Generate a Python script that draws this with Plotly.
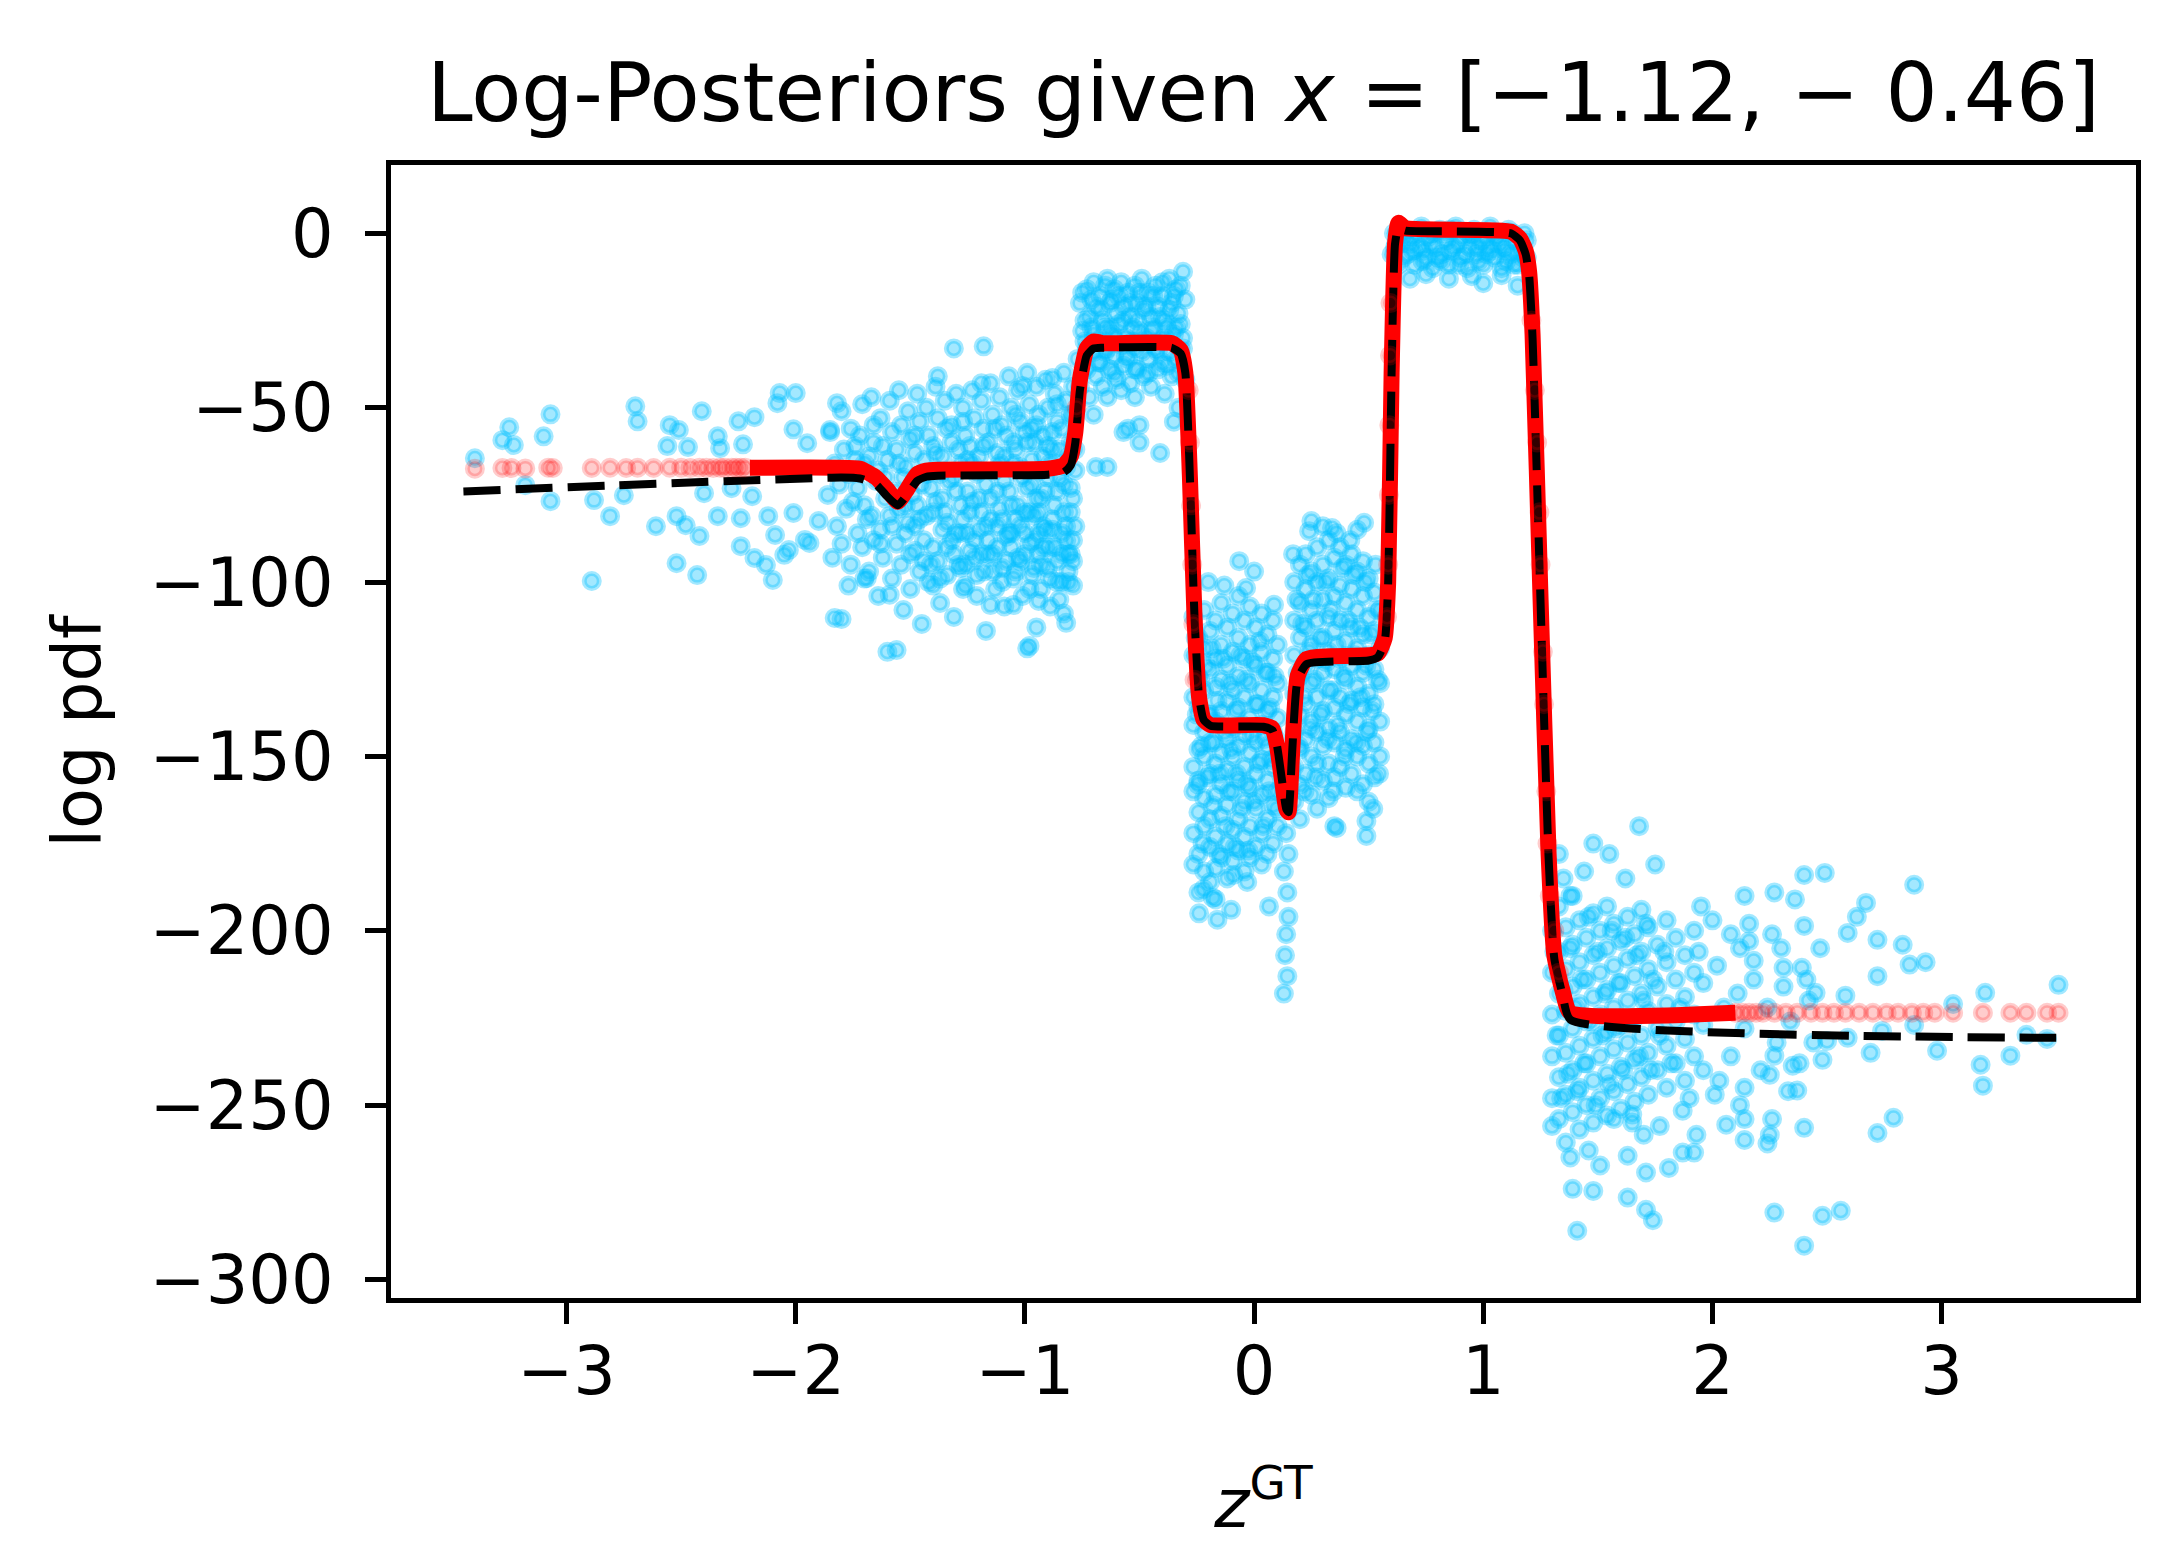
import plotly.graph_objects as go

# ---- data ----
title_text = "Log-Posteriors given <i>x</i> = [\u22121.12, \u2212 0.46]"
x_ticks = [-3, -2, -1, 0, 1, 2, 3]
x_tick_labels = ["\u22123", "\u22122", "\u22121", "0", "1", "2", "3"]
y_ticks = [0, -50, -100, -150, -200, -250, -300]
y_tick_labels = ["0", "\u221250", "\u2212100", "\u2212150", "\u2212200", "\u2212250", "\u2212300"]

# estimated log posterior (black dashed)
est_z = [-3.45, -1.80, -1.72, -1.65, -1.60, -1.555, -1.52, -1.47, -1.43, -1.38, -0.90, -0.83,
         -0.80, -0.78, -0.76, -0.73, -0.70, -0.66, -0.36, -0.32, -0.30, -0.28, -0.26, -0.24,
         -0.22, -0.19, 0.04, 0.08, 0.10, 0.12, 0.14, 0.15, 0.165, 0.19, 0.23, 0.50, 0.54, 0.57,
         0.585, 0.60, 0.615, 0.63, 0.66, 1.12, 1.16, 1.185, 1.20, 1.215, 1.25, 1.285, 1.31,
         1.345, 1.38, 3.50]
est_logp = [-74.0, -70.0, -70.3, -72.0, -75.5, -78.0, -75.5, -71.0, -69.8, -69.5, -69.2, -68.5,
            -66.5, -60.0, -45.0, -35.0, -33.0, -32.8, -32.8, -34.5, -40.0, -70.0, -110.0, -133.0,
            -139.5, -141.2, -141.5, -142.5, -147.0, -156.0, -165.0, -166.0, -150.0, -128.0, -123.5,
            -122.5, -121.5, -117.0, -100.0, -40.0, -3.0, 1.5, 0.8, 0.0, -2.0, -6.0, -12.0, -30.0,
            -106.0, -179.0, -208.0, -218.0, -225.5, -230.7]

# true log posterior (red solid, where the samples pile up into a band)
true_z = [-2.20, -1.82, -1.72, -1.65, -1.60, -1.555, -1.52, -1.47, -1.43, -1.38, -0.90, -0.83,
          -0.80, -0.78, -0.76, -0.73, -0.70, -0.66, -0.36, -0.32, -0.30, -0.28, -0.26, -0.24,
          -0.22, -0.19, 0.04, 0.08, 0.10, 0.12, 0.14, 0.15, 0.165, 0.19, 0.23, 0.50, 0.54, 0.57,
          0.585, 0.60, 0.615, 0.63, 0.66, 1.12, 1.16, 1.185, 1.20, 1.215, 1.25, 1.285, 1.31,
          1.345, 1.38, 2.10]
true_logp = [-67.2, -67.2, -67.5, -70.0, -73.5, -77.0, -74.0, -69.0, -68.0, -67.8, -67.5, -66.5,
             -64.0, -57.0, -42.0, -33.0, -31.0, -31.5, -31.5, -33.5, -40.0, -70.0, -110.0, -133.0,
             -139.5, -141.0, -141.0, -142.0, -147.0, -156.0, -165.0, -166.0, -150.0, -127.0,
             -122.0, -121.0, -120.5, -116.0, -100.0, -40.0, -3.0, 3.0, 1.5, 0.5, -1.5, -5.0,
             -11.0, -29.0, -105.0, -178.0, -207.0, -217.0, -223.5, -223.5]

# true log posterior at the sampled z (red dots)
red_dots = [(-3.40, -67.5), (-3.28, -67.3), (-3.24, -67.3), (-3.18, -67.4), (-3.08, -67.2),
            (-3.06, -67.3), (-2.89, -67.3), (-2.81, -67.2), (-2.74, -67.3), (-2.69, -67.2),
            (-2.62, -67.3), (-2.55, -67.2), (-2.50, -67.2), (-2.46, -67.3), (-2.42, -67.2),
            (-2.39, -67.2), (-2.36, -67.3), (-2.33, -67.2), (-2.31, -67.2), (-2.28, -67.2),
            (-2.26, -67.2), (-2.24, -67.2), (-2.22, -67.2),
            (2.10, -223.5), (2.13, -223.5), (2.16, -223.5), (2.19, -223.5), (2.22, -223.5),
            (2.27, -223.5), (2.32, -223.5), (2.37, -223.5), (2.43, -223.5), (2.48, -223.5),
            (2.53, -223.5), (2.58, -223.5), (2.64, -223.5), (2.70, -223.5), (2.76, -223.5),
            (2.81, -223.5), (2.87, -223.5), (2.92, -223.5), (2.97, -223.5), (3.05, -223.5),
            (3.18, -223.5), (3.30, -223.5), (3.37, -223.5), (3.46, -223.5), (3.51, -223.5),
            (-0.775, -50), (-0.285, -45), (-0.28, -60), (-0.275, -78), (-0.27, -95),
            (-0.265, -112), (-0.26, -128), (0.595, -20), (0.593, -35), (0.59, -55),
            (0.588, -75), (0.585, -95), (0.58, -110), (1.21, -25), (1.225, -45), (1.235, -60),
            (1.245, -80), (1.25, -95), (1.26, -120), (1.265, -135), (1.275, -160),
            (1.28, -175), (1.29, -190), (1.31, -200), (1.33, -212)]

# posterior samples, left sparse tail and outliers
blue_left = [(-3.40, -64.5), (-3.25, -55.6), (-3.28, -59.3), (-3.23, -60.7), (-3.10, -58.2),
             (-3.07, -51.9), (-3.18, -72.2), (-3.07, -76.8), (-2.89, -99.7), (-2.81, -81.1),
             (-2.88, -76.5), (-2.75, -75.1), (-2.70, -49.6), (-2.69, -53.9), (-2.61, -84.0),
             (-2.55, -55.0), (-2.51, -56.4), (-2.56, -61.0), (-2.47, -61.3), (-2.52, -81.1),
             (-2.48, -83.7), (-2.42, -86.8), (-2.52, -94.6), (-2.43, -98.0), (-2.41, -51.0),
             (-2.40, -74.5), (-2.34, -58.2), (-2.33, -61.6), (-2.34, -81.1), (-2.25, -53.9),
             (-2.24, -81.7), (-2.24, -89.7), (-2.18, -52.7), (-2.18, -93.1), (-2.13, -95.1),
             (-2.10, -99.4), (-2.12, -81.1), (-2.09, -86.5), (-2.05, -92.2), (-2.03, -90.8),
             (-2.08, -48.7), (-2.07, -45.8), (-2.00, -45.8), (-2.01, -56.2), (-1.95, -60.2),
             (-1.96, -87.9), (-1.94, -88.8), (-2.01, -80.2), (-1.90, -82.5), (-1.83, -110.3),
             (-1.80, -110.6), (-1.85, -56.4), (-1.82, -48.7), (-2.23, -60.5), (-2.28, -73.1),
             (-2.19, -75.4), (-1.69, -98.9), (-1.59, -103.6), (-1.56, -119.5), (-1.40, -101.0),
             (-1.27, -102.0), (-1.15, -106.6), (-1.05, -106.6), (-0.98, -118.3), (-0.94, -105.4),
             (-0.82, -111.7), (-1.18, -32.4), (-1.38, -41.0), (-1.19, -43.0), (-0.88, -41.5),
             (-1.01, -43.8)]

# posterior samples, dense band before the first step
blue_band = [(-1.85, -57), (-1.83, -66), (-1.86, -75), (-1.82, -84), (-1.84, -93),
             (-1.80, -51), (-1.79, -62), (-1.81, -72), (-1.78, -79), (-1.80, -89), (-1.77, -101),
             (-1.76, -56), (-1.74, -61), (-1.77, -69), (-1.75, -77), (-1.73, -86), (-1.76, -95),
             (-1.71, -49), (-1.72, -58), (-1.70, -66), (-1.73, -73), (-1.69, -82), (-1.71, -90),
             (-1.70, -99), (-1.67, -47), (-1.66, -55), (-1.68, -64), (-1.65, -71), (-1.67, -81),
             (-1.66, -88), (-1.68, -97), (-1.63, -53), (-1.62, -61), (-1.64, -68), (-1.61, -76),
             (-1.63, -85), (-1.62, -93), (-1.64, -104), (-1.59, -48), (-1.58, -57), (-1.60, -65),
             (-1.57, -74), (-1.59, -81), (-1.56, -89), (-1.58, -99), (-1.60, -120), (-1.55, -45),
             (-1.54, -55), (-1.56, -62), (-1.53, -70), (-1.55, -79), (-1.52, -86), (-1.54, -95),
             (-1.53, -108), (-1.51, -51), (-1.50, -59), (-1.52, -67), (-1.49, -75), (-1.51, -83),
             (-1.48, -91), (-1.50, -102), (-1.47, -46), (-1.46, -54), (-1.48, -63), (-1.45, -72),
             (-1.47, -78), (-1.44, -88), (-1.46, -97), (-1.45, -112), (-1.43, -50), (-1.42, -58),
             (-1.44, -65), (-1.41, -73), (-1.43, -81), (-1.40, -90), (-1.42, -100), (-1.39, -44),
             (-1.38, -53), (-1.40, -61), (-1.37, -69), (-1.39, -77), (-1.36, -85), (-1.38, -94),
             (-1.37, -106), (-1.35, -48), (-1.34, -56), (-1.36, -64), (-1.33, -71), (-1.35, -80),
             (-1.32, -88), (-1.34, -98), (-1.31, -33), (-1.30, -46), (-1.32, -55), (-1.29, -62),
             (-1.31, -70), (-1.28, -78), (-1.30, -86), (-1.29, -95), (-1.31, -110), (-1.27, -50),
             (-1.26, -58), (-1.28, -66), (-1.25, -74), (-1.27, -82), (-1.24, -91), (-1.26, -101),
             (-1.23, -45), (-1.22, -53), (-1.24, -61), (-1.21, -69), (-1.23, -77), (-1.20, -85),
             (-1.22, -93), (-1.21, -104), (-1.19, -48), (-1.18, -56), (-1.20, -64), (-1.17, -72),
             (-1.19, -80), (-1.16, -88), (-1.18, -97), (-1.17, -114), (-1.15, -43), (-1.14, -52),
             (-1.16, -60), (-1.13, -68), (-1.15, -76), (-1.12, -84), (-1.14, -92), (-1.13, -102),
             (-1.11, -47), (-1.10, -55), (-1.12, -63), (-1.09, -71), (-1.11, -79), (-1.08, -87),
             (-1.10, -96), (-1.09, -107), (-1.07, -41), (-1.06, -50), (-1.08, -58), (-1.05, -66),
             (-1.07, -74), (-1.04, -82), (-1.06, -90), (-1.05, -99), (-1.03, -45), (-1.02, -54),
             (-1.04, -62), (-1.01, -70), (-1.03, -78), (-1.00, -86), (-1.02, -94), (-1.01, -104),
             (-0.99, -40), (-0.98, -49), (-1.00, -57), (-0.97, -65), (-0.99, -73), (-0.96, -81),
             (-0.98, -89), (-0.97, -98), (-0.99, -119), (-0.95, -44), (-0.94, -52), (-0.96, -60),
             (-0.93, -68), (-0.95, -76), (-0.92, -84), (-0.94, -92), (-0.93, -102), (-0.95, -113),
             (-0.91, -42), (-0.90, -50), (-0.92, -58), (-0.89, -66), (-0.91, -74), (-0.88, -82),
             (-0.90, -90), (-0.89, -99), (-0.87, -46), (-0.86, -54), (-0.88, -62), (-0.85, -70),
             (-0.87, -78), (-0.84, -86), (-0.86, -94), (-0.85, -105), (-0.83, -40), (-0.82, -48),
             (-0.84, -56), (-0.81, -64), (-0.83, -72), (-0.80, -80), (-0.82, -88), (-0.81, -97),
             (-0.83, -109), (-0.79, -44), (-0.79, -52), (-0.80, -60), (-0.78, -68), (-0.79, -76),
             (-0.78, -84), (-0.80, -92), (-0.79, -101),
             (-1.74, -65), (-1.70, -78), (-1.66, -60), (-1.63, -89), (-1.61, -70), (-1.58, -84),
             (-1.55, -66), (-1.52, -78), (-1.50, -92), (-1.48, -58), (-1.46, -82), (-1.43, -69),
             (-1.41, -95), (-1.39, -63), (-1.36, -76), (-1.34, -90), (-1.32, -60), (-1.30, -74),
             (-1.28, -96), (-1.27, -54), (-1.25, -86), (-1.23, -66), (-1.21, -98), (-1.20, -76),
             (-1.18, -61), (-1.16, -92), (-1.15, -82), (-1.13, -56), (-1.12, -74), (-1.10, -100),
             (-1.09, -64), (-1.07, -86), (-1.06, -78), (-1.04, -52), (-1.03, -93), (-1.02, -67),
             (-1.00, -80), (-0.99, -60), (-0.98, -102), (-0.97, -72), (-0.96, -88), (-0.95, -55),
             (-0.94, -80), (-0.93, -95), (-0.92, -64), (-0.91, -85), (-0.90, -70), (-0.89, -107),
             (-0.88, -57), (-0.87, -90), (-0.86, -74), (-0.85, -62), (-0.84, -100), (-0.83, -80),
             (-0.82, -67), (-0.81, -92), (-0.80, -52), (-0.80, -73), (-0.79, -88), (-0.78, -62),
             (-1.48, -84), (-1.44, -94), (-1.40, -80), (-1.37, -99), (-1.34, -83), (-1.31, -92),
             (-1.28, -86), (-1.26, -95), (-1.24, -80), (-1.22, -88), (-1.19, -92), (-1.17, -84),
             (-1.14, -97), (-1.12, -90), (-1.10, -82), (-1.08, -94), (-1.06, -86), (-1.04, -97),
             (-1.02, -84), (-1.00, -92), (-0.98, -80), (-0.96, -96), (-0.94, -86), (-0.92, -90),
             (-0.90, -96), (-0.88, -85), (-0.86, -100), (-0.84, -92), (-0.82, -84), (-0.81, -100),
             (-0.79, -94), (-0.97, -56), (-1.05, -60), (-0.90, -61), (-0.86, -49), (-1.11, -66),
             (-1.25, -65), (-0.93, -76)]

# posterior samples on the -30 plateau
blue_upper = [(-0.76, -20), (-0.75, -28), (-0.77, -36), (-0.76, -44), (-0.73, -16), (-0.72, -24),
              (-0.74, -31), (-0.73, -39), (-0.72, -47), (-0.70, -14), (-0.69, -21), (-0.71, -27),
              (-0.70, -34), (-0.69, -41), (-0.70, -52), (-0.67, -18), (-0.66, -25), (-0.68, -31),
              (-0.67, -37), (-0.66, -44), (-0.64, -13), (-0.63, -20), (-0.65, -27), (-0.64, -33),
              (-0.63, -39), (-0.64, -47), (-0.61, -16), (-0.60, -23), (-0.62, -29), (-0.61, -35),
              (-0.60, -42), (-0.58, -14), (-0.57, -21), (-0.59, -26), (-0.58, -32), (-0.57, -38),
              (-0.58, -45), (-0.55, -17), (-0.54, -24), (-0.56, -30), (-0.55, -36), (-0.54, -43),
              (-0.55, -56), (-0.52, -15), (-0.51, -20), (-0.53, -27), (-0.52, -33), (-0.51, -39),
              (-0.52, -47), (-0.49, -13), (-0.48, -22), (-0.50, -28), (-0.49, -34), (-0.48, -41),
              (-0.50, -60), (-0.46, -17), (-0.45, -24), (-0.47, -30), (-0.46, -36), (-0.45, -44),
              (-0.43, -15), (-0.42, -21), (-0.44, -27), (-0.43, -33), (-0.42, -39), (-0.41, -63),
              (-0.40, -18), (-0.39, -25), (-0.41, -31), (-0.40, -37), (-0.39, -46), (-0.37, -13),
              (-0.36, -20), (-0.38, -27), (-0.37, -34), (-0.36, -41), (-0.34, -16), (-0.33, -23),
              (-0.35, -29), (-0.34, -36), (-0.33, -50), (-0.31, -11), (-0.30, -19), (-0.32, -26),
              (-0.31, -33), (-0.30, -42), (-0.64, -67), (-0.69, -67), (-0.57, -57), (-0.50, -55),
              (-0.35, -54),
              (-0.75, -17), (-0.74, -25), (-0.73, -33), (-0.71, -19), (-0.70, -29), (-0.68, -37),
              (-0.67, -22), (-0.65, -15), (-0.65, -34), (-0.63, -27), (-0.62, -19), (-0.61, -40),
              (-0.60, -30), (-0.59, -18), (-0.57, -25), (-0.56, -35), (-0.54, -20), (-0.53, -31),
              (-0.52, -39), (-0.51, -25), (-0.50, -17), (-0.49, -31), (-0.47, -21), (-0.46, -40),
              (-0.45, -28), (-0.44, -18), (-0.42, -34), (-0.41, -24), (-0.40, -14), (-0.39, -30),
              (-0.38, -38), (-0.37, -22), (-0.35, -18), (-0.34, -27), (-0.33, -40), (-0.32, -15),
              (-0.31, -30)]

# posterior samples on the -140 plateau and the spike
blue_low = [(-0.265, -110), (-0.265, -121), (-0.265, -133), (-0.265, -141), (-0.265, -153),
            (-0.265, -160), (-0.265, -172), (-0.265, -181), (-0.243, -116), (-0.243, -127),
            (-0.243, -136), (-0.243, -148), (-0.243, -157), (-0.243, -166), (-0.243, -178),
            (-0.243, -189), (-0.218, -108), (-0.218, -119), (-0.218, -131), (-0.218, -143),
            (-0.218, -150), (-0.218, -162), (-0.218, -170), (-0.218, -183), (-0.192, -114),
            (-0.192, -125), (-0.192, -138), (-0.192, -146), (-0.192, -155), (-0.192, -168),
            (-0.192, -176), (-0.192, -186), (-0.168, -111), (-0.168, -122), (-0.168, -130),
            (-0.168, -140), (-0.168, -152), (-0.168, -161), (-0.168, -173), (-0.168, -182),
            (-0.168, -191), (-0.143, -106), (-0.143, -118), (-0.143, -128), (-0.143, -137),
            (-0.143, -149), (-0.143, -158), (-0.143, -167), (-0.143, -179), (-0.117, -113),
            (-0.117, -124), (-0.117, -134), (-0.117, -145), (-0.117, -154), (-0.117, -164),
            (-0.117, -175), (-0.117, -185), (-0.093, -109), (-0.093, -120), (-0.093, -131),
            (-0.093, -142), (-0.093, -150), (-0.093, -160), (-0.093, -171), (-0.093, -180),
            (-0.068, -104), (-0.068, -116), (-0.068, -127), (-0.068, -136), (-0.068, -147),
            (-0.068, -157), (-0.068, -168), (-0.068, -177), (-0.042, -111), (-0.042, -122),
            (-0.042, -133), (-0.042, -144), (-0.042, -153), (-0.042, -163), (-0.042, -173),
            (-0.042, -183), (-0.018, -107), (-0.018, -118), (-0.018, -129), (-0.018, -139),
            (-0.018, -149), (-0.018, -159), (-0.018, -170), (-0.018, -179), (0.008, -113),
            (0.008, -124), (0.008, -135), (0.008, -146), (0.008, -155), (0.008, -165),
            (0.008, -176), (0.033, -109), (0.033, -120), (0.033, -131), (0.033, -141),
            (0.033, -151), (0.033, -161), (0.033, -172), (0.033, -181), (0.058, -115),
            (0.058, -126), (0.058, -137), (0.058, -147), (0.058, -157), (0.058, -168),
            (0.058, -178), (0.083, -111), (0.083, -122), (0.083, -133), (0.083, -143),
            (0.083, -153), (0.083, -164), (0.083, -175), (0.103, -118), (0.103, -129),
            (0.103, -139), (0.103, -150), (0.103, -160), (0.103, -170), (-0.18, -190.5),
            (-0.16, -196.8), (-0.10, -194), (0.065, -193), (-0.09, -184), (-0.03, -186),
            (-0.065, -94), (-0.035, -101.7), (-0.13, -101), (0.087, -106.5), (-0.20, -100),
            (0.0, -97), (-0.24, -195), (-0.22, -188), (0.14, -172), (0.15, -178), (0.13, -183),
            (0.145, -189), (0.15, -196), (0.14, -201), (0.135, -207), (0.145, -213),
            (0.13, -218), (0.15, -165), (0.14, -160),
            (-0.255, -116), (-0.25, -138), (-0.245, -158), (-0.235, -128), (-0.23, -147),
            (-0.225, -175), (-0.21, -124), (-0.205, -156), (-0.20, -138), (-0.185, -119),
            (-0.18, -164), (-0.175, -146), (-0.16, -134), (-0.155, -178), (-0.15, -155),
            (-0.135, -122), (-0.13, -143), (-0.125, -170), (-0.11, -160), (-0.105, -129),
            (-0.10, -148), (-0.085, -176), (-0.08, -137), (-0.075, -155), (-0.06, -121),
            (-0.055, -165), (-0.05, -141), (-0.035, -128), (-0.03, -158), (-0.025, -177),
            (-0.01, -144), (-0.005, -123), (0.0, -163), (0.015, -135), (0.02, -152),
            (0.025, -117), (0.04, -170), (0.045, -145), (0.05, -126), (0.065, -160),
            (0.07, -136), (0.075, -151), (0.09, -127), (0.095, -145), (0.10, -165)]

# posterior samples on the -120 plateau
blue_mid = [(0.175, -100), (0.175, -111), (0.175, -121), (0.175, -132), (0.175, -143),
            (0.175, -153), (0.175, -163), (0.20, -95), (0.20, -106), (0.20, -116), (0.20, -127),
            (0.20, -138), (0.20, -148), (0.20, -158), (0.20, -168), (0.225, -92), (0.225, -102),
            (0.225, -113), (0.225, -124), (0.225, -135), (0.225, -145), (0.225, -155),
            (0.25, -97), (0.25, -108), (0.25, -118), (0.25, -129), (0.25, -140), (0.25, -150),
            (0.25, -161), (0.275, -90), (0.275, -100), (0.275, -111), (0.275, -122),
            (0.275, -133), (0.275, -143), (0.275, -152), (0.275, -165), (0.30, -95), (0.30, -105),
            (0.30, -116), (0.30, -126), (0.30, -137), (0.30, -147), (0.30, -157), (0.325, -88),
            (0.325, -99), (0.325, -110), (0.325, -120), (0.325, -131), (0.325, -142),
            (0.325, -152), (0.325, -162), (0.35, -93), (0.35, -104), (0.35, -114), (0.35, -125),
            (0.35, -136), (0.35, -146), (0.35, -156), (0.35, -170), (0.375, -90), (0.375, -101),
            (0.375, -111), (0.375, -122), (0.375, -133), (0.375, -143), (0.375, -153),
            (0.40, -95), (0.40, -106), (0.40, -117), (0.40, -128), (0.40, -138), (0.40, -148),
            (0.40, -159), (0.425, -92), (0.425, -102), (0.425, -113), (0.425, -124),
            (0.425, -134), (0.425, -145), (0.425, -155), (0.45, -97), (0.45, -108), (0.45, -119),
            (0.45, -130), (0.45, -140), (0.45, -150), (0.45, -160), (0.475, -94), (0.475, -104),
            (0.475, -115), (0.475, -126), (0.475, -136), (0.475, -147), (0.475, -158),
            (0.50, -99), (0.50, -110), (0.50, -121), (0.50, -132), (0.50, -142), (0.50, -152),
            (0.50, -163), (0.525, -103), (0.525, -114), (0.525, -125), (0.525, -135),
            (0.525, -146), (0.525, -156), (0.55, -108), (0.55, -119), (0.55, -129), (0.55, -140),
            (0.55, -150), (0.25, -82.5), (0.24, -85.4), (0.34, -84.5), (0.36, -86), (0.48, -83),
            (0.17, -92), (0.36, -170.5), (0.49, -168.5), (0.49, -172.8), (0.52, -165),
            (0.42, -88), (0.30, -84), (0.45, -85), (0.53, -95),
            (0.185, -105), (0.19, -126), (0.195, -147), (0.21, -112), (0.215, -133),
            (0.22, -160), (0.235, -98), (0.24, -120), (0.245, -142), (0.26, -105), (0.265, -128),
            (0.27, -156), (0.285, -116), (0.29, -138), (0.31, -100), (0.315, -123), (0.32, -145),
            (0.335, -108), (0.34, -131), (0.345, -160), (0.36, -118), (0.365, -141),
            (0.385, -96), (0.39, -127), (0.395, -150), (0.41, -111), (0.415, -135),
            (0.435, -98), (0.44, -121), (0.445, -146), (0.46, -113), (0.465, -133),
            (0.485, -100), (0.49, -124), (0.495, -143), (0.51, -115), (0.515, -137),
            (0.535, -108), (0.54, -128), (0.545, -155)]

# posterior samples on the top plateau
blue_top = [(0.60, -6), (0.61, 0), (0.63, -9), (0.64, -3), (0.66, 1), (0.67, -6), (0.69, -1),
            (0.70, -9), (0.72, -4), (0.73, 2), (0.75, -7), (0.76, -1), (0.78, -10), (0.79, -4),
            (0.81, 1), (0.82, -6), (0.84, -2), (0.85, -9), (0.87, -4), (0.88, 2), (0.90, -7),
            (0.91, -1), (0.93, -10), (0.94, -4), (0.96, 1), (0.97, -6), (0.99, -2), (1.00, -9),
            (1.02, -4), (1.03, 2), (1.05, -7), (1.06, -1), (1.08, -10), (1.09, -4), (1.11, 1),
            (1.12, -6), (1.14, -2), (1.15, -9), (1.17, -4), (1.18, 0), (1.19, -7), (0.62, -3),
            (0.65, -7), (0.68, -3), (0.71, 0), (0.74, -5), (0.77, -3), (0.80, -7), (0.83, 0),
            (0.86, -5), (0.89, -3), (0.92, -6), (0.95, -1), (0.98, -8), (1.01, -1), (1.04, -5),
            (1.07, -3), (1.10, -8), (1.13, 0), (1.16, -5), (1.19, -2), (0.75, -11.7),
            (0.95, -12.3), (1.00, -14.3), (1.15, -15), (0.68, -13), (0.85, -13), (1.08, -12),
            (0.615, -4), (0.655, -1), (0.695, -5), (0.735, -8), (0.775, 0), (0.815, -8),
            (0.855, 1), (0.895, -9), (0.935, 0), (0.975, -4), (1.015, -6), (1.055, 0),
            (1.095, -5), (1.135, -9), (1.175, -7)]

# posterior samples, right tail
blue_right = [(1.30, -200), (1.30, -212), (1.30, -224), (1.30, -236), (1.30, -248),
              (1.33, -193), (1.33, -206), (1.33, -218), (1.33, -230), (1.33, -242), (1.33, -254),
              (1.36, -199), (1.36, -211), (1.36, -223), (1.36, -235), (1.36, -247),
              (1.39, -190), (1.39, -204), (1.39, -216), (1.39, -228), (1.39, -240), (1.39, -252),
              (1.42, -197), (1.42, -209), (1.42, -221), (1.42, -233), (1.42, -245), (1.42, -257),
              (1.45, -202), (1.45, -214), (1.45, -226), (1.45, -238), (1.45, -250),
              (1.48, -195), (1.48, -207), (1.48, -219), (1.48, -231), (1.48, -243), (1.48, -255),
              (1.51, -200), (1.51, -212), (1.51, -224), (1.51, -236), (1.51, -248),
              (1.54, -193), (1.54, -205), (1.54, -217), (1.54, -229), (1.54, -241), (1.54, -253),
              (1.57, -198), (1.57, -210), (1.57, -222), (1.57, -234), (1.57, -246),
              (1.60, -203), (1.60, -215), (1.60, -227), (1.60, -239), (1.60, -251),
              (1.63, -196), (1.63, -208), (1.63, -220), (1.63, -232), (1.63, -244),
              (1.66, -201), (1.66, -213), (1.66, -225), (1.66, -237), (1.66, -249),
              (1.69, -194), (1.69, -206), (1.69, -218), (1.69, -230), (1.69, -242),
              (1.72, -199), (1.72, -211), (1.72, -223), (1.72, -235), (1.72, -247),
              (1.76, -204), (1.76, -216), (1.76, -228), (1.76, -240), (1.80, -197), (1.80, -209),
              (1.80, -221), (1.80, -233), (1.80, -245), (1.84, -202), (1.84, -214), (1.84, -226),
              (1.84, -238), (1.88, -207), (1.88, -219), (1.88, -231), (1.88, -243), (1.92, -200),
              (1.92, -212), (1.92, -224), (1.92, -236), (1.96, -215), (1.96, -227), (1.96, -240),
              (2.02, -210), (2.05, -222), (2.08, -236), (2.11, -218), (2.14, -228), (2.18, -214),
              (2.21, -240), (2.24, -222), (2.28, -232), (2.31, -216), (2.34, -226), (2.38, -238),
              (2.42, -220), (2.03, -243), (2.16, -203), (2.30, -205), (2.44, -232), (2.12, -250),
              (1.48, -175), (1.55, -178), (1.68, -170), (1.75, -181), (1.62, -185), (1.44, -183),
              (1.38, -190), (1.33, -178), (1.35, -185),
              (2.40, -184), (2.49, -183.4), (2.88, -186.8), (2.14, -190), (2.27, -189),
              (2.36, -191), (2.67, -192), (1.95, -193), (2.00, -197), (2.63, -196), (2.16, -198),
              (2.40, -198.6), (2.08, -201), (2.26, -201), (2.59, -200.6), (2.72, -202.6),
              (2.83, -204), (2.47, -205), (2.12, -205), (2.18, -208.6), (2.86, -209.7),
              (2.93, -209), (2.31, -210.6), (2.39, -210.6), (2.72, -213), (2.41, -214),
              (3.51, -215.5), (3.19, -217.8), (2.45, -217.8), (3.05, -221), (2.58, -218.6),
              (3.37, -229.8), (3.46, -231), (2.88, -227), (2.74, -228.7), (2.59, -230.7),
              (2.50, -231.6), (2.69, -235), (2.98, -234.4), (3.30, -235.8), (3.17, -238.4),
              (3.18, -244.4), (2.48, -237), (2.27, -235.8), (2.35, -238.7), (2.25, -241.3),
              (2.37, -245.8), (2.33, -246), (2.14, -245), (2.01, -247), (2.79, -253.6),
              (2.72, -258), (2.40, -256.5), (2.26, -254), (2.25, -258.5), (2.14, -254),
              (2.14, -260), (2.24, -261), (2.06, -255.6), (1.93, -258.5), (1.92, -263.6),
              (1.87, -263.6), (1.81, -268), (1.71, -269.3), (1.63, -264.5), (1.51, -267.3),
              (1.46, -263), (1.38, -265), (1.36, -260.7), (1.30, -256), (1.39, -274),
              (1.48, -274.6), (1.63, -276.5), (1.71, -280), (1.74, -283), (1.41, -286),
              (2.27, -280.8), (2.48, -281.7), (2.56, -280.3), (2.40, -290.3), (1.77, -256),
              (1.70, -258.5), (1.57, -254), (1.87, -251.6), (1.65, -252.7),
              (1.31, -206), (1.32, -230), (1.34, -248), (1.35, -217), (1.37, -241), (1.38, -205),
              (1.40, -222), (1.41, -246), (1.43, -214), (1.44, -238), (1.46, -196), (1.47, -226),
              (1.49, -250), (1.50, -206), (1.52, -230), (1.53, -218), (1.55, -244), (1.56, -200),
              (1.58, -228), (1.59, -215), (1.61, -240), (1.62, -202), (1.64, -226), (1.65, -255),
              (1.67, -207), (1.68, -236), (1.70, -220), (1.71, -198), (1.73, -240), (1.74, -214),
              (1.77, -230), (1.79, -206), (1.82, -238), (1.86, -222), (1.90, -248), (1.94, -206)]

blue_samples = blue_left + blue_band + blue_upper + blue_low + blue_mid + blue_top + blue_right

blue_z = [p[0] for p in blue_samples]
blue_logp = [p[1] for p in blue_samples]
red_z = [p[0] for p in red_dots]
red_logp = [p[1] for p in red_dots]

FONT = "DejaVu Sans"

fig = go.Figure()

fig.add_trace(go.Scatter(
    x=blue_z, y=blue_logp, mode="markers",
    marker=dict(size=15, color="rgba(0,191,255,0.36)",
                line=dict(width=5, color="rgba(0,191,255,0.36)")),
    showlegend=False, hoverinfo="skip"))

fig.add_trace(go.Scatter(
    x=true_z, y=true_logp, mode="lines",
    line=dict(color="rgb(255,0,0)", width=16, shape="spline", smoothing=0.5),
    showlegend=False, hoverinfo="skip"))

fig.add_trace(go.Scatter(
    x=est_z, y=est_logp, mode="lines",
    line=dict(color="black", width=8, dash="37px,15px", shape="spline", smoothing=0.5),
    showlegend=False, hoverinfo="skip"))

fig.add_trace(go.Scatter(
    x=red_z, y=red_logp, mode="markers",
    marker=dict(size=15, color="rgba(255,0,0,0.2)",
                line=dict(width=5, color="rgba(255,0,0,0.2)")),
    showlegend=False, hoverinfo="skip"))

axis_style = dict(showgrid=False, zeroline=False, showline=True, mirror=True,
                  linecolor="black", linewidth=5, ticks="outside", ticklen=21,
                  tickwidth=5, tickcolor="black",
                  tickfont=dict(family=FONT, size=67, color="black"))

fig.update_xaxes(range=[-3.766, 3.848], tickvals=x_ticks, ticktext=x_tick_labels,
                 ticklabelstandoff=-10,
                 title=dict(text="<i>z</i><sup>GT</sup>", standoff=72,
                            font=dict(family=FONT, size=67, color="black")),
                 **axis_style)
fig.update_yaxes(range=[-305.3, 19.6], tickvals=y_ticks, ticktext=y_tick_labels,
                 ticklabelstandoff=18,
                 title=dict(text="log pdf", standoff=28,
                            font=dict(family=FONT, size=67, color="black")),
                 **axis_style)

fig.update_layout(
    width=2177, height=1550,
    margin=dict(l=383, r=49, t=157, b=260),
    paper_bgcolor="white", plot_bgcolor="white",
    font=dict(family=FONT, color="black"),
    title=dict(text=title_text, x=0.5, xref="paper", xanchor="center",
               y=1, yref="paper", yanchor="bottom", pad=dict(b=44),
               font=dict(family=FONT, size=82, color="black")),
)

fig.write_html("out.html")
